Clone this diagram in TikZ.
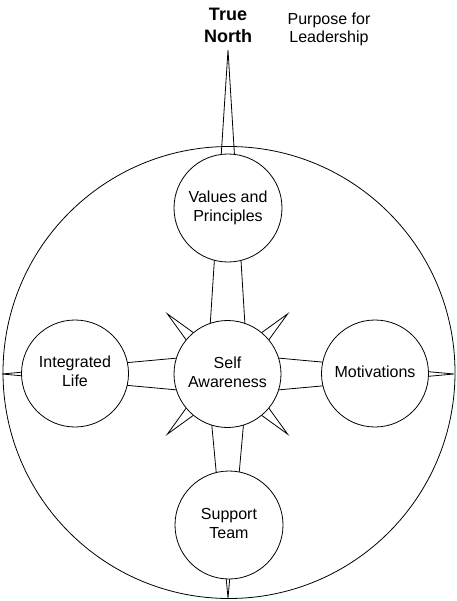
\documentclass[tikz,border=0pt]{standalone}
\usepackage{fontspec}
\setmainfont{Liberation Sans}
\usetikzlibrary{calc}
\begin{document}
\begin{tikzpicture}[x=1pt,y=-1pt,line width=0.8pt,
  bub/.style={circle,draw,fill=white,minimum size=108pt,inner sep=0pt,align=center,
    font=\fontsize{16}{19}\selectfont},
  pt/.style={draw,line join=miter}]
\useasboundingbox (0,0) rectangle (456,601);
% outer rim
\node[draw,circle,minimum size=452pt,inner sep=0pt] (rim) at (229,372.5) {};
% compass points
\coordinate (c) at (227.5,374);
\coordinate (tN) at (228,50);
\coordinate (tS) at (228,598);
\coordinate (tW) at (2,374);
\coordinate (tE) at (454,374);
\draw[pt] ($(c)+(-20.5,0)$) -- (tN) -- ($(c)+(20.5,0)$);
\draw[pt] ($(c)+(-20.5,0)$) -- (tS) -- ($(c)+(20.5,0)$);
\draw[pt] ($(c)+(0,-20.5)$) -- (tW) -- ($(c)+(0,20.5)$);
\draw[pt] ($(c)+(0,-20.5)$) -- (tE) -- ($(c)+(0,20.5)$);
\foreach \a in {45,135,225,315}{
  \draw[pt] ($(c)+(\a+90:13.7)$) -- ($(c)+(\a:85)$) -- ($(c)+(\a-90:13.7)$);
}
% bubbles
\node[bub] (vp) at (228,208) {\strut Values and\\Principles\strut};
\node[bub,minimum size=107pt] (sa) at (c) {\strut Self\\Awareness\strut};
\node[bub,minimum size=107pt] (il) at (75,373.5) {\strut Integrated\\Life\strut};
\node[bub,minimum size=107pt] (mo) at (375,373.5) {\strut Motivations\strut};
\node[bub] (st) at (229,525) {\strut Support\\Team\strut};
% titles
\node[align=center,font=\bfseries\fontsize{18}{21.6}\selectfont,inner sep=0pt] (tn) at (228,27.2) {\strut True\\North\strut};
\node[align=center,font=\fontsize{16}{18}\selectfont,inner sep=0pt] (pl) at (329,30.2) {\strut Purpose for\\Leadership\strut};
\end{tikzpicture}
\end{document}
